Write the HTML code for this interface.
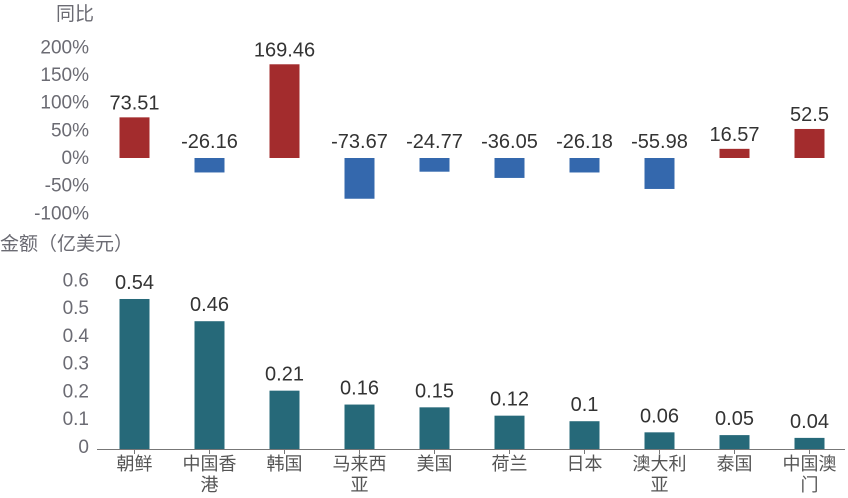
<!DOCTYPE html>
<html><head><meta charset="utf-8"><style>
body{margin:0;background:#fff;}
svg text{font-family:"Liberation Sans","Noto Sans CJK SC",sans-serif;}
</style></head><body>
<svg width="848" height="493" xmlns="http://www.w3.org/2000/svg">
<g id="g"></g>
</svg>
<script>
const categories=["朝鲜","中国香港","韩国","马来西亚","美国","荷兰","日本","澳大利亚","泰国","中国澳门"];
const growth=[73.51,-26.16,169.46,-73.67,-24.77,-36.05,-26.18,-55.98,16.57,52.5];
const amount=[0.54,0.46,0.21,0.16,0.15,0.12,0.1,0.06,0.05,0.04];
const growthTicks=[200,150,100,50,0,-50,-100];
const amountTicks=[0.6,0.5,0.4,0.3,0.2,0.1,0];
const NS="http://www.w3.org/2000/svg";
const g=document.getElementById('g');
function el(t,a,txt){const e=document.createElementNS(NS,t);for(const k in a)e.setAttribute(k,a[k]);if(txt!==undefined)e.textContent=txt;g.appendChild(e);return e;}
const xC=i=>134.5+i*75;
const yG=v=>158-v*0.553;
const yA=v=>449-v*277.8;
let t=el('text',{x:56,y:20,'font-size':19,fill:'#6b6b73'},'同比');


t=el('text',{x:0,y:250,'font-size':19,fill:'#6b6b73'},'金额（亿美元）');


growthTicks.forEach(v=>{const e=el('text',{x:89,y:yG(v)+6,'font-size':19,fill:'#6b6b73','text-anchor':'end'},v+'%');

});
amountTicks.forEach(v=>{const e=el('text',{x:89,y:yA(v)+4,'font-size':19,fill:'#6b6b73','text-anchor':'end'},String(v));

});
growth.forEach((v,i)=>{
 const y0=yG(0),y1=yG(v);
 const r=el('rect',{x:xC(i)-15,y:Math.min(y0,y1),width:30,height:Math.abs(y1-y0),fill:v>=0?'#a32c2d':'#3468ad'});
 
 
 const ty=v>=0?y1-8:y0-10;
 const l=el('text',{x:xC(i),y:ty,'font-size':20,fill:'#333','text-anchor':'middle'},String(v));
 
 
});
let ax=el('line',{x1:97,y1:449.5,x2:845,y2:449.5,stroke:'#777','stroke-width':1});


amount.forEach((v,i)=>{
 const r=el('rect',{x:xC(i)-15,y:yA(v),width:30,height:yA(0)-yA(v),fill:'#266979'});
 
 
 const l=el('text',{x:xC(i),y:yA(v)-10,'font-size':20,fill:'#333','text-anchor':'middle'},String(v));
 
 
 const tk=el('line',{x1:xC(i),y1:449,x2:xC(i),y2:454,stroke:'#777'});
 
 
 const c=categories[i];
 const lines=c.length>3?[c.slice(0,3),c.slice(3)]:[c];
 lines.forEach((s,j)=>{const e=el('text',{x:xC(i),y:470+j*21,'font-size':18,fill:'#555','text-anchor':'middle'},s);
 
 });
});
</script>
</body></html>
